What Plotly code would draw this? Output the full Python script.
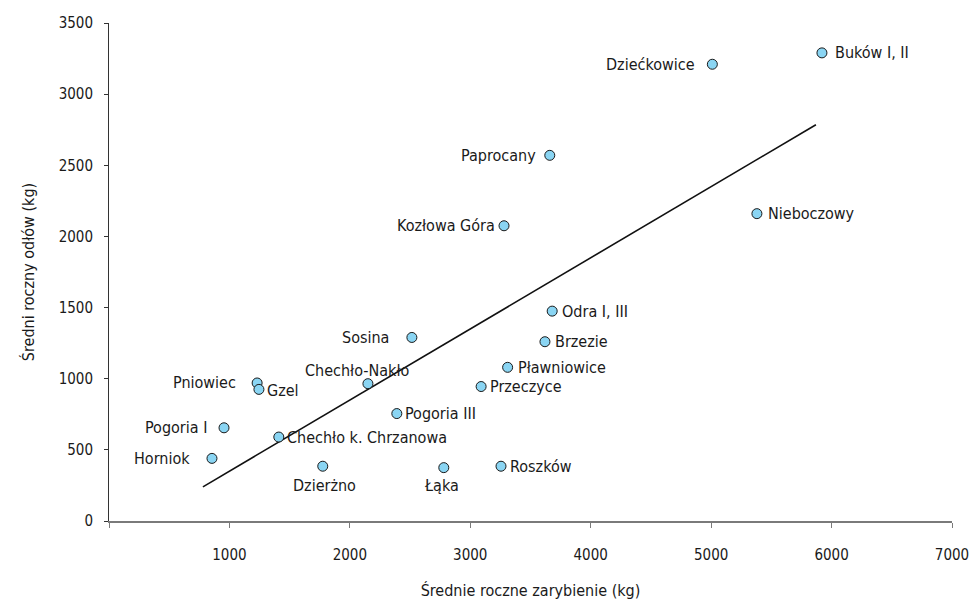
import plotly.graph_objects as go

# Stocking (x) vs. catch (y), yearly means per reservoir, in kg
names = [
    "Buków I, II", "Dziećkowice", "Paprocany", "Nieboczowy", "Kozłowa Góra",
    "Odra I, III", "Sosina", "Brzezie", "Pławniowice", "Chechło-Nakło",
    "Przeczyce", "Pniowiec", "Gzel", "Pogoria III", "Pogoria I",
    "Chechło k. Chrzanowa", "Horniok", "Dzierżno", "Łąka", "Roszków",
]
stocking = [
    5920, 5010, 3660, 5380, 3280,
    3680, 2515, 3620, 3310, 2150,
    3090, 1230, 1245, 2390, 955,
    1410, 855, 1775, 2780, 3255,
]
catch = [
    3290, 3210, 2570, 2160, 2075,
    1475, 1290, 1260, 1080, 965,
    945, 970, 925, 755, 655,
    590, 440, 385, 375, 385,
]

# Fitted linear trend, drawn between its two end points
trend_x = [780, 5870]
trend_y = [240, 2785]

x_ticks = [0, 1000, 2000, 3000, 4000, 5000, 6000, 7000]
x_tick_text = ["", "1000", "2000", "3000", "4000", "5000", "6000", "7000"]
y_ticks = [0, 500, 1000, 1500, 2000, 2500, 3000, 3500]

# Label placement: side of the marker and pixel shift (dx, dy)
label_place = {
    "Buków I, II": ("R", 11, 0), "Dziećkowice": ("L", -15, 0),
    "Paprocany": ("L", -12, 0), "Nieboczowy": ("R", 9, 0),
    "Kozłowa Góra": ("L", -7, 0), "Odra I, III": ("R", 8, 0),
    "Sosina": ("L", -21, 0), "Brzezie": ("R", 8, 0),
    "Pławniowice": ("R", 8, 0), "Chechło-Nakło": ("T", -11, 2),
    "Przeczyce": ("R", 7, 0), "Pniowiec": ("L", -19, 0),
    "Gzel": ("R", 6, -1), "Pogoria III": ("R", 6, 0),
    "Pogoria I": ("L", -15, 0), "Chechło k. Chrzanowa": ("R", 6, 0),
    "Horniok": ("L", -20, 0), "Dzierżno": ("B", 2, -8),
    "Łąka": ("B", -2, -6), "Roszków": ("R", 7, 0),
}

FONT = "DejaVu Sans Condensed, Liberation Sans, Arial, sans-serif"

fig = go.Figure()

fig.add_trace(go.Scatter(
    x=trend_x, y=trend_y, mode="lines",
    line=dict(color="#111111", width=1.6),
    hoverinfo="skip", showlegend=False,
))

fig.add_trace(go.Scatter(
    x=stocking, y=catch, mode="markers", text=names,
    marker=dict(size=10, color="#8ad5f3", line=dict(color="#1a1a1a", width=1)),
    showlegend=False,
))

anchors = {
    "L": dict(xanchor="right", yanchor="middle"),
    "R": dict(xanchor="left", yanchor="middle"),
    "T": dict(xanchor="center", yanchor="bottom"),
    "B": dict(xanchor="center", yanchor="top"),
}
for n, xv, yv in zip(names, stocking, catch):
    side, dx, dy = label_place[n]
    fig.add_annotation(
        x=xv, y=yv, text=n, showarrow=False, xshift=dx, yshift=dy,
        font=dict(family=FONT, size=16, color="#1a1a1a"),
        **anchors[side],
    )

fig.update_layout(
    width=975, height=603,
    margin=dict(l=109, r=23, t=23, b=82, autoexpand=False),
    paper_bgcolor="white", plot_bgcolor="white",
    font=dict(family=FONT, size=15, color="#1a1a1a"),
)

fig.update_xaxes(
    range=[0, 7000], tickvals=x_ticks, ticktext=x_tick_text,
    showgrid=False, zeroline=False, automargin=False,
    showline=True, linecolor="#7a7a7a", linewidth=1.5,
    ticks="outside", ticklen=5, tickcolor="#7a7a7a", tickwidth=1,
    ticklabelstandoff=14,
    title=dict(text="Średnie roczne zarybienie (kg)", standoff=22,
               font=dict(family=FONT, size=16)),
)
fig.update_yaxes(
    range=[0, 3500], tickvals=y_ticks,
    showgrid=False, zeroline=False, automargin=False,
    showline=True, linecolor="#333333", linewidth=1,
    ticks="outside", ticklen=4, tickcolor="#333333", tickwidth=1,
    ticklabelstandoff=8,
    title=dict(text="Średni roczny odłów (kg)", standoff=20,
               font=dict(family=FONT, size=16)),
)

fig.write_html("out.html")
